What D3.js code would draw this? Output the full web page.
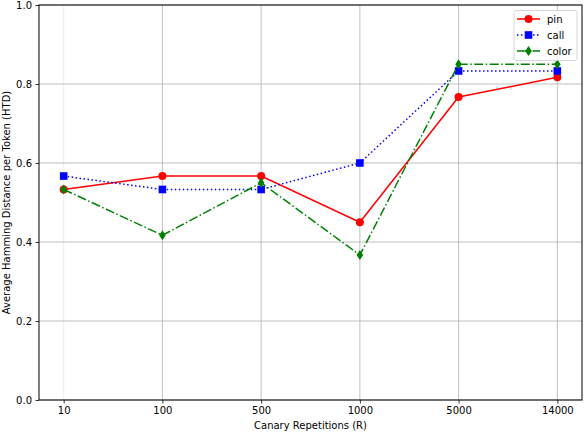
<!DOCTYPE html>
<html><head><meta charset="utf-8">
<script src="https://cdn.jsdelivr.net/npm/d3@7"></script>
<style>body{margin:0;background:#fff}svg{display:block}text{font-family:"DejaVu Sans",sans-serif}</style>
</head><body>
<svg id="c" width="584" height="432"></svg>
<script>
const categories = ["10","100","500","1000","5000","14000"];
const pinValues   = [0.533, 0.567, 0.567, 0.45, 0.767, 0.817];
const callValues  = [0.567, 0.533, 0.533, 0.6, 0.833, 0.833];
const colorValues = [0.533, 0.417, 0.55, 0.367, 0.85, 0.85];
const yTicks = [0.0, 0.2, 0.4, 0.6, 0.8, 1.0];
const seriesNames = ["pin","call","color"];

const svg = d3.select("#c");
const L = 39, R = 582, T = 5, B = 400;
const x = d3.scaleLinear().domain([-0.25, categories.length - 0.75]).range([L, R]);
const y = d3.scaleLinear().domain([0, 1]).range([B, T]);

// grid
const g = svg.append("g");
g.selectAll("line.vg").data(categories).join("line")
  .attr("x1", (d,i)=>x(i)).attr("x2",(d,i)=>x(i)).attr("y1",T).attr("y2",B)
  .attr("stroke",(d,i)=> i===0 ? "#e8e8e8" : "#b0b0b0").attr("stroke-width",0.8);
g.selectAll("line.hg").data(yTicks).join("line")
  .attr("x1",L).attr("x2",R).attr("y1",d=>y(d)).attr("y2",d=>y(d))
  .attr("stroke","#b0b0b0").attr("stroke-width",0.8);

// axes
const xAxis = d3.axisBottom(x).tickValues(d3.range(categories.length)).tickFormat(i=>categories[i]).tickSizeOuter(0).tickSize(3.5).tickPadding(3.5);
const yAxis = d3.axisLeft(y).tickValues(yTicks).tickFormat(d3.format(".1f")).tickSizeOuter(0).tickSize(3.5).tickPadding(3.5);
const ax = svg.append("g").attr("transform",`translate(0,${B})`).call(xAxis);
const ay = svg.append("g").attr("transform",`translate(${L},0)`).call(yAxis);
[ax,ay].forEach(a=>{
  a.select(".domain").remove();
  a.selectAll("text").attr("font-size",10).attr("fill","#000").attr("font-family","DejaVu Sans");
  a.selectAll("line").attr("stroke","#000").attr("stroke-width",0.8);
});
// frame
svg.append("rect").attr("x",L).attr("y",T).attr("width",R-L).attr("height",B-T)
  .attr("fill","none").attr("stroke","#000").attr("stroke-width",1);

// labels
svg.append("text").attr("x",(L+R)/2).attr("y",429).attr("text-anchor","middle").attr("font-size",10).text("Canary Repetitions (R)");
svg.append("text").attr("transform",`translate(10,${(T+B)/2}) rotate(-90)`).attr("text-anchor","middle").attr("font-size",10).text("Average Hamming Distance per Token (HTD)");

const series = [
  {name: seriesNames[0], values: pinValues, color:"#ff0000", dash:null, marker:"circle"},
  {name: seriesNames[1], values: callValues, color:"#0000ff", dash:"1.5,2.5", marker:"square"},
  {name: seriesNames[2], values: colorValues, color:"#008000", dash:"9,2.5,1.5,2.5", marker:"diamond"},
];
function marker(sel, s, cx, cy){
  if(s.marker==="circle") sel.append("circle").attr("cx",cx).attr("cy",cy).attr("r",4).attr("fill",s.color);
  else if(s.marker==="square") sel.append("rect").attr("x",cx-3.8).attr("y",cy-3.8).attr("width",7.6).attr("height",7.6).attr("fill",s.color);
  else sel.append("path").attr("d",`M${cx},${cy-5}L${cx+3.3},${cy}L${cx},${cy+5}L${cx-3.3},${cy}Z`).attr("fill",s.color);
}
const line = d3.line().x((d,i)=>x(i)).y(d=>y(d));
series.forEach(s=>{
  const gs = svg.append("g");
  gs.append("path").attr("d",line(s.values)).attr("fill","none").attr("stroke",s.color).attr("stroke-width",1.5)
    .attr("stroke-dasharray",s.dash);
  s.values.forEach((v,i)=>marker(gs,s,x(i),y(v)));
});

// legend
const lg = svg.append("g");
lg.append("rect").attr("x",514).attr("y",10.5).attr("width",63).attr("height",50).attr("rx",2)
  .attr("fill","#fff").attr("fill-opacity",0.8).attr("stroke","#ccc").attr("stroke-width",0.8);
series.forEach((s,i)=>{
  const cy = 19 + i*16;
  lg.append("line").attr("x1",517).attr("x2",540).attr("y1",cy).attr("y2",cy).attr("stroke",s.color).attr("stroke-width",1.5).attr("stroke-dasharray",s.dash);
  marker(lg,s,528.5,cy);
  lg.append("text").attr("x",547).attr("y",cy+3.5).attr("font-size",10).text(s.name);
});
</script>
</body></html>
